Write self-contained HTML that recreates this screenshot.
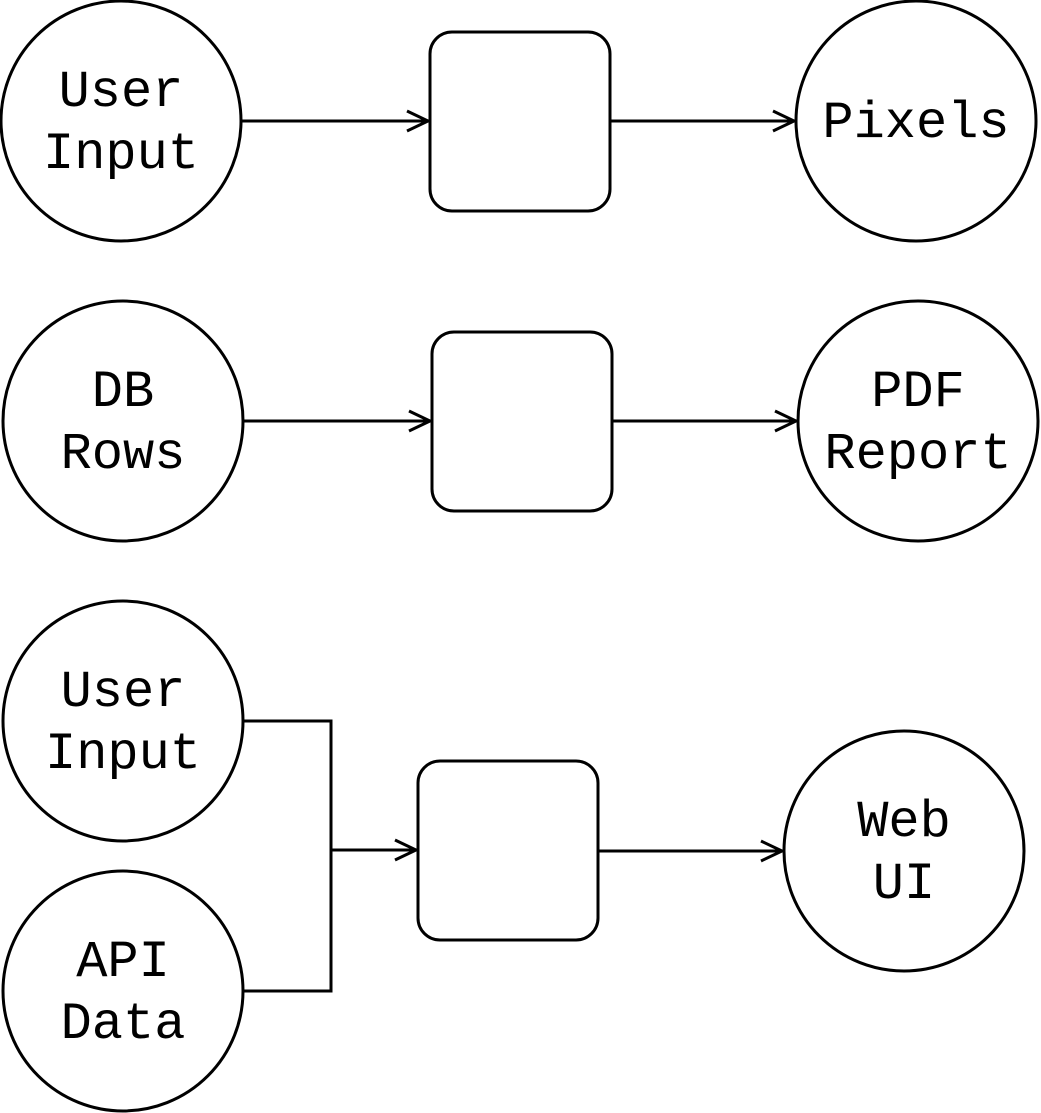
<!DOCTYPE html>
<html><head><meta charset="utf-8"><style>
html,body{margin:0;padding:0;background:#fff}
svg{display:block}
text{font-family:"Liberation Mono",monospace;font-size:52px;fill:#000;text-anchor:middle}
</style></head><body>
<svg width="1041" height="1113" viewBox="0 0 1041 1113">
<defs><marker id="ah" markerWidth="12" markerHeight="12" refX="11" refY="6" orient="auto" markerUnits="userSpaceOnUse"></marker></defs>
<g fill="none" stroke="#000" stroke-width="3">
<g>
<circle cx="121" cy="121" r="120"/>
<rect x="430" y="32" width="180" height="179" rx="22"/>
<circle cx="916" cy="121" r="120"/>
<path d="M241 121H428M407 111L428 121L407 131"/>
<path d="M610 121H794M773 111L794 121L773 131"/>
</g>
<g>
<circle cx="123" cy="421" r="120"/>
<rect x="432" y="332" width="180" height="179" rx="22"/>
<circle cx="918" cy="421" r="120"/>
<path d="M243 421H430M409 411L430 421L409 431"/>
<path d="M612 421H796M775 411L796 421L775 431"/>
</g>
<g>
<circle cx="123" cy="721" r="120"/>
<circle cx="123" cy="991" r="120"/>
<rect x="418" y="761" width="180" height="179" rx="22"/>
<circle cx="904" cy="851" r="120"/>
<path d="M243 721H331V991H243"/>
<path d="M331 850H416M395 840L416 850L395 860"/>
<path d="M598 851H782M761 841L782 851L761 861"/>
</g>
</g>
<g>
<text x="121" y="106">User</text>
<text x="121" y="168">Input</text>
<text x="916" y="137">Pixels</text>
<text x="123" y="406">DB</text>
<text x="123" y="468">Rows</text>
<text x="918" y="406">PDF</text>
<text x="918" y="468">Report</text>
<text x="123" y="706">User</text>
<text x="123" y="768">Input</text>
<text x="123" y="976">API</text>
<text x="123" y="1038">Data</text>
<text x="904" y="836">Web</text>
<text x="904" y="898">UI</text>
</g>
</svg>
</body></html>
